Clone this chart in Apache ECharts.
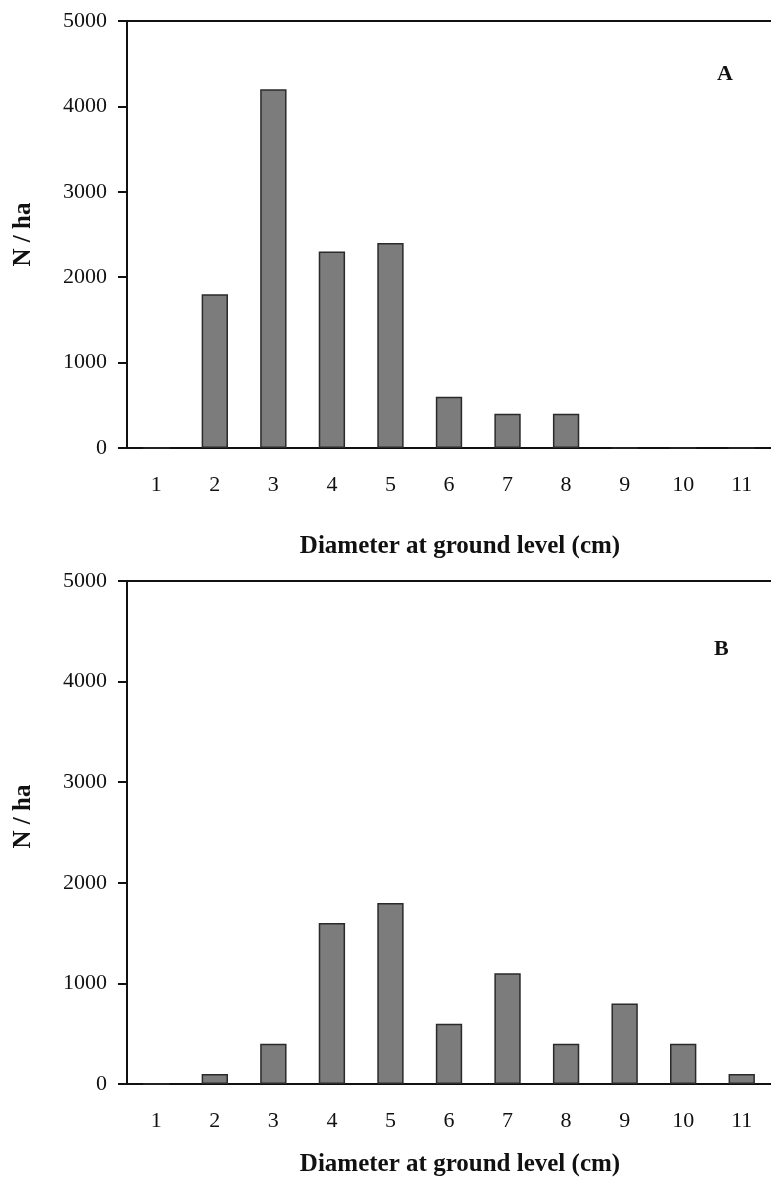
<!DOCTYPE html>
<html>
<head>
<meta charset="utf-8">
<script src="https://cdn.jsdelivr.net/npm/echarts@6/dist/echarts.min.js"></script>
<style>
  html, body { margin: 0; padding: 0; background: #fff; overflow: hidden; }
  #chart { width: 771px; height: 1178px; }
</style>
</head>
<body>
<div id="chart"></div>
<script>
// diameter classes (cm)
const categories = ['1', '2', '3', '4', '5', '6', '7', '8', '9', '10', '11']
// stems per hectare, panel A and panel B
const densityA = [0, 1800, 4200, 2300, 2400, 600, 400, 400, 0, 0, 0]
const densityB = [0, 100, 400, 1600, 1800, 600, 1100, 400, 800, 400, 100]
const yTicks = { min: 0, max: 5000, interval: 1000 }
const panelLetters = ['A', 'B']
const xTitle = 'Diameter at ground level (cm)'
const yTitle = 'N / ha'

const font = '"Liberation Serif", "Times New Roman", serif'
const black = '#111'

function xAxisFor(gridIndex, nameGap) {
  return {
    type: 'category',
    gridIndex,
    data: categories,
    boundaryGap: true,
    name: xTitle,
    nameLocation: 'middle',
    nameGap,
    nameTextStyle: {
      fontFamily: font, fontSize: 25, fontWeight: 'bold', color: black,
      padding: [0, 0, 0, 22],
    },
    axisLine: { lineStyle: { color: black, width: 2 } },
    axisTick: { alignWithLabel: false, length: 9, lineStyle: { color: black, width: 2 } },
    axisLabel: { fontFamily: font, fontSize: 22, color: black, margin: 26 },
    splitLine: { show: false },
  }
}

// top frame line of each panel
function topAxisFor(gridIndex) {
  return {
    type: 'category',
    gridIndex,
    position: 'top',
    data: categories,
    axisLine: { lineStyle: { color: black, width: 2 } },
    axisTick: { show: false },
    axisLabel: { show: false },
    splitLine: { show: false },
  }
}

function yAxisFor(gridIndex, namePadding) {
  return {
    type: 'value',
    gridIndex,
    min: yTicks.min,
    max: yTicks.max,
    interval: yTicks.interval,
    name: yTitle,
    nameLocation: 'middle',
    nameGap: 91,
    nameRotate: 90,
    nameTextStyle: {
      fontFamily: font, fontSize: 25, fontWeight: 'bold', color: black,
      padding: namePadding,
    },
    axisLine: { show: true, lineStyle: { color: black, width: 2 } },
    axisTick: { show: true, length: 9, lineStyle: { color: black, width: 2 } },
    axisLabel: {
      fontFamily: font, fontSize: 22, color: black, margin: 20,
      formatter: v => String(v),
    },
    splitLine: { show: false },
  }
}

function barSeries(idx, data) {
  return {
    type: 'bar',
    xAxisIndex: idx,
    yAxisIndex: idx,
    data,
    barWidth: '45%',
    itemStyle: { color: '#7c7c7c', borderColor: '#2a2a2a', borderWidth: 1.5 },
    silent: true,
  }
}

const letterStyle = { fontFamily: font, fontSize: 22, fontWeight: 'bold', color: black }

const chart = echarts.init(document.getElementById('chart'), null, { renderer: 'canvas' })
chart.setOption({
  animation: false,
  backgroundColor: '#fff',
  title: [
    { text: panelLetters[0], left: 717, top: 63, padding: 0, textStyle: letterStyle },
    { text: panelLetters[1], left: 714, top: 638, padding: 0, textStyle: letterStyle },
  ],
  grid: [
    { left: 127, right: -3, top: 21, height: 427 },
    { left: 127, right: -3, top: 581, height: 505 },
  ],
  xAxis: [xAxisFor(0, 86), xAxisFor(1, 68), topAxisFor(0), topAxisFor(1)],
  yAxis: [yAxisFor(0, 0), yAxisFor(1, [0, 0, 0, 32])],
  series: [barSeries(0, densityA), barSeries(1, densityB)],
})
</script>
</body>
</html>
